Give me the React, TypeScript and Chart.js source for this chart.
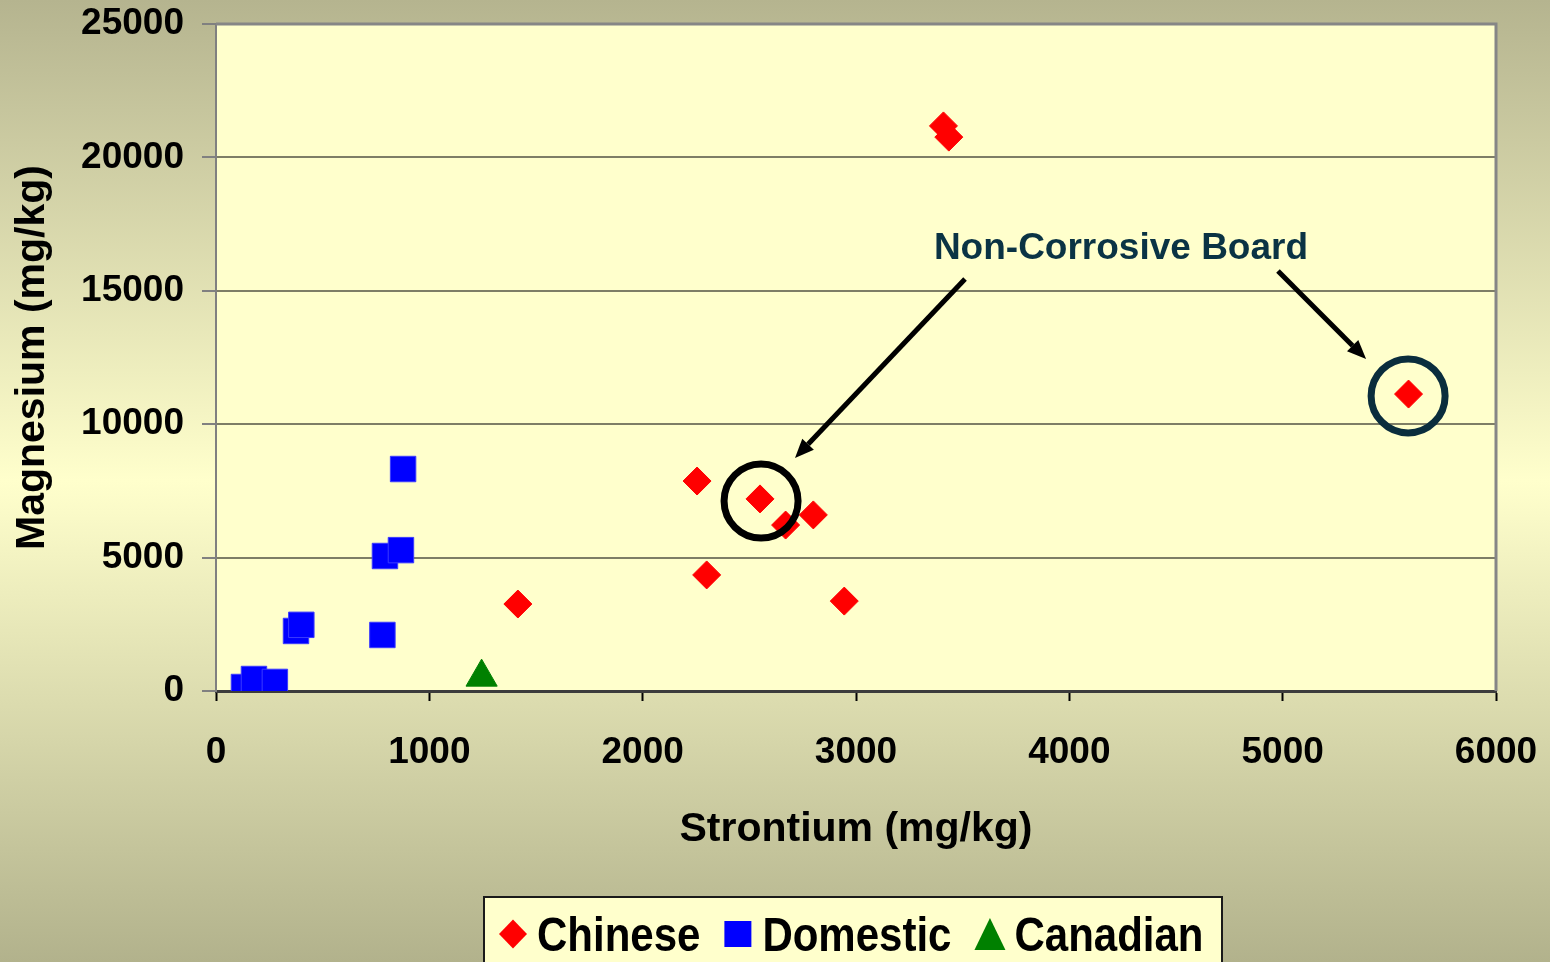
import React, { useEffect, useRef } from "react";
import { Chart, registerables } from "chart.js";

Chart.register(...registerables);

const FONT = '"Liberation Sans", Arial, Helvetica, sans-serif';

// Strontium (x) and magnesium (y) concentrations, mg/kg
const chineseSr = [1415, 2255, 2300, 2550, 2670, 2800, 2945, 3410, 3435, 5590];
const chineseMg = [3260, 7870, 4350, 7200, 6220, 6600, 3370, 21180, 20760, 11130];
const domesticSr = [131, 178, 276, 375, 400, 780, 792, 867, 877];
const domesticMg = [150, 450, 340, 2250, 2480, 2100, 5060, 5280, 8320];
const canadianSr = [1245];
const canadianMg = [520];

const seriesNames = ["Chinese", "Domestic", "Canadian"];
const seriesColors = ["#FF0000", "#0000FF", "#008000"];

const xTitle = "Strontium (mg/kg)";
const yTitle = "Magnesium (mg/kg)";

// Callout: label, circled samples and arrows, in data units
const calloutText = "Non-Corrosive Board";
const calloutAt = { x: 4242, y: 16570 };
const circledSamples = [
  { x: 2555, y: 7120, color: "#000000" },
  { x: 5588, y: 11060, color: "#0A2D3D" },
];
const calloutArrows = [
  { from: { x: 3511, y: 15440 }, to: { x: 2714, y: 8730 } },
  { from: { x: 4978, y: 15740 }, to: { x: 5391, y: 12440 } },
];

const toPoints = (xs: number[], ys: number[]) => xs.map((x, i) => ({ x, y: ys[i] }));

// Scale boxes keep a fixed size and report no label overhang,
// so the plot area is set by layout.padding alone.
const fixScaleBox = (scale: any, w: number | null, h: number | null) => {
  if (w !== null) scale.width = w;
  if (h !== null) scale.height = h;
  scale.paddingTop = 0;
  scale.paddingBottom = 0;
  scale.paddingLeft = 0;
  scale.paddingRight = 0;
};

const backgroundPlugin = {
  id: "slideBackground",
  beforeDraw(chart: any) {
    const { ctx, width, height, chartArea } = chart;
    ctx.save();
    const g = ctx.createLinearGradient(0, 0, 0, height);
    g.addColorStop(0, "#B5B48F");
    g.addColorStop(0.5, "#FFFFCC");
    g.addColorStop(1, "#B2B28C");
    ctx.fillStyle = g;
    ctx.fillRect(0, 0, width, height);
    ctx.fillStyle = "#FFFFCC";
    ctx.fillRect(chartArea.left, chartArea.top, chartArea.right - chartArea.left, chartArea.bottom - chartArea.top);
    ctx.restore();
  },
  afterDraw(chart: any) {
    const { ctx, chartArea } = chart;
    ctx.save();
    ctx.strokeStyle = "#868686";
    ctx.lineWidth = 3;
    ctx.beginPath();
    ctx.moveTo(chartArea.left, chartArea.top);
    ctx.lineTo(chartArea.right, chartArea.top);
    ctx.lineTo(chartArea.right, chartArea.bottom);
    ctx.stroke();
    ctx.restore();
  },
};

const calloutPlugin = {
  id: "callouts",
  afterDatasetsDraw(chart: any) {
    const { ctx } = chart;
    const xs = chart.scales.x;
    const ys = chart.scales.y;
    ctx.save();
    for (const c of circledSamples) {
      ctx.beginPath();
      ctx.arc(xs.getPixelForValue(c.x), ys.getPixelForValue(c.y), 37, 0, Math.PI * 2);
      ctx.lineWidth = 7;
      ctx.strokeStyle = c.color;
      ctx.stroke();
    }
    for (const a of calloutArrows) {
      const x1 = xs.getPixelForValue(a.from.x);
      const y1 = ys.getPixelForValue(a.from.y);
      const x2 = xs.getPixelForValue(a.to.x);
      const y2 = ys.getPixelForValue(a.to.y);
      const ang = Math.atan2(y2 - y1, x2 - x1);
      const headLen = 19;
      const headHalf = 8;
      const bx = x2 - Math.cos(ang) * headLen;
      const by = y2 - Math.sin(ang) * headLen;
      ctx.strokeStyle = "#000000";
      ctx.fillStyle = "#000000";
      ctx.lineWidth = 5;
      ctx.beginPath();
      ctx.moveTo(x1, y1);
      ctx.lineTo(bx, by);
      ctx.stroke();
      ctx.beginPath();
      ctx.moveTo(x2, y2);
      ctx.lineTo(bx + Math.sin(ang) * headHalf, by - Math.cos(ang) * headHalf);
      ctx.lineTo(bx - Math.sin(ang) * headHalf, by + Math.cos(ang) * headHalf);
      ctx.closePath();
      ctx.fill();
    }
    ctx.font = `bold 37px ${FONT}`;
    ctx.fillStyle = "#0A3344";
    ctx.textAlign = "center";
    ctx.textBaseline = "middle";
    ctx.fillText(calloutText, xs.getPixelForValue(calloutAt.x), ys.getPixelForValue(calloutAt.y));
    ctx.restore();
  },
};

const legendPlugin = {
  id: "boxedLegend",
  afterDraw(chart: any) {
    const { ctx } = chart;
    const boxLeft = 484;
    const boxTop = 897;
    const boxWidth = 738;
    const midY = 934;
    const baseline = 951;
    const squeeze = 0.875;
    ctx.save();
    ctx.fillStyle = "#FFFFCC";
    ctx.fillRect(boxLeft, boxTop, boxWidth, 120);
    ctx.strokeStyle = "#1A1A1A";
    ctx.lineWidth = 2;
    ctx.strokeRect(boxLeft, boxTop, boxWidth, 120);

    ctx.font = `bold 48px ${FONT}`;
    ctx.textBaseline = "alphabetic";
    ctx.textAlign = "left";
    const markerW = [28, 27, 31];
    const markerGap = [10, 11, 9];
    const itemGap = [24, 23, 0];
    let cx = 499;
    seriesNames.forEach((name, i) => {
      const mx = cx + markerW[i] / 2;
      ctx.fillStyle = seriesColors[i];
      ctx.beginPath();
      if (i === 0) {
        ctx.moveTo(mx, midY - 14.5);
        ctx.lineTo(mx + 14, midY);
        ctx.lineTo(mx, midY + 14.5);
        ctx.lineTo(mx - 14, midY);
      } else if (i === 1) {
        ctx.rect(mx - 13.5, midY - 13, 27, 26);
      } else {
        ctx.moveTo(mx, midY - 16);
        ctx.lineTo(mx + 15.5, midY + 16);
        ctx.lineTo(mx - 15.5, midY + 16);
      }
      ctx.closePath();
      ctx.fill();
      cx += markerW[i] + markerGap[i];
      ctx.save();
      ctx.translate(cx, baseline);
      ctx.scale(squeeze, 1);
      ctx.fillStyle = "#000000";
      ctx.fillText(name, 0, 0);
      ctx.restore();
      cx += ctx.measureText(name).width * squeeze + itemGap[i];
    });
    ctx.restore();
  },
};

export default function App() {
  const canvasRef = useRef<HTMLCanvasElement | null>(null);

  useEffect(() => {
    const canvas = canvasRef.current;
    if (!canvas) return;
    const tickFont = { family: FONT, size: 37, weight: "bold" as const };
    const titleFont = { family: FONT, size: 41, weight: "bold" as const };
    const chart = new Chart(canvas, {
      type: "scatter",
      data: {
        datasets: [
          {
            label: seriesNames[0],
            data: toPoints(chineseSr, chineseMg),
            pointStyle: "rectRot",
            pointRadius: 14,
            backgroundColor: seriesColors[0],
            borderColor: seriesColors[0],
            borderWidth: 1,
          },
          {
            label: seriesNames[1],
            data: toPoints(domesticSr, domesticMg),
            pointStyle: "rect",
            pointRadius: 18,
            backgroundColor: seriesColors[1],
            borderColor: "#3A3AFF",
            borderWidth: 1,
          },
          {
            label: seriesNames[2],
            data: toPoints(canadianSr, canadianMg),
            pointStyle: "triangle",
            pointRadius: 18,
            backgroundColor: seriesColors[2],
            borderColor: seriesColors[2],
            borderWidth: 1,
          },
        ],
      },
      options: {
        responsive: false,
        animation: false,
        events: [],
        layout: { autoPadding: false, padding: { top: 24, right: 54, left: 0, bottom: 0 } },
        plugins: {
          legend: { display: false },
          tooltip: { enabled: false },
        },
        scales: {
          x: {
            type: "linear",
            min: 0,
            max: 6000,
            afterFit(scale: any) {
              fixScaleBox(scale, null, 271);
            },
            ticks: {
              stepSize: 1000,
              color: "#000000",
              font: tickFont,
              padding: 30,
              maxRotation: 0,
              callback: (v: any) => String(v),
            },
            grid: {
              drawOnChartArea: false,
              drawTicks: true,
              tickLength: 10,
              tickColor: "#000000",
              tickWidth: 2,
              color: "#000000",
            },
            border: { display: true, color: "#3C3C3C", width: 3 },
            title: {
              display: true,
              text: xTitle,
              color: "#000000",
              font: titleFont,
              padding: { top: 0, bottom: 108 },
            },
          },
          y: {
            type: "linear",
            min: 0,
            max: 25000,
            afterFit(scale: any) {
              fixScaleBox(scale, 216, null);
            },
            ticks: {
              stepSize: 5000,
              color: "#000000",
              font: tickFont,
              padding: 18,
              callback: (v: any) => String(v),
            },
            grid: {
              drawOnChartArea: true,
              drawTicks: true,
              tickLength: 14,
              tickColor: "#808080",
              tickWidth: 2,
              lineWidth: 2,
              color: (c: any) => (c.tick && c.tick.value === 0 ? "rgba(0,0,0,0)" : "#7E7E66"),
            },
            border: { display: true, color: "#808080", width: 2 },
            title: {
              display: true,
              text: yTitle,
              color: "#000000",
              font: titleFont,
              padding: { top: 8, bottom: 0 },
            },
          },
        },
      },
      plugins: [backgroundPlugin, calloutPlugin, legendPlugin],
    });
    return () => chart.destroy();
  }, []);

  return (
    <div style={{ position: "absolute", left: 0, top: 0, width: 1550, height: 962, overflow: "hidden" }}>
      <canvas ref={canvasRef} width={1550} height={962} style={{ display: "block" }} />
    </div>
  );
}
